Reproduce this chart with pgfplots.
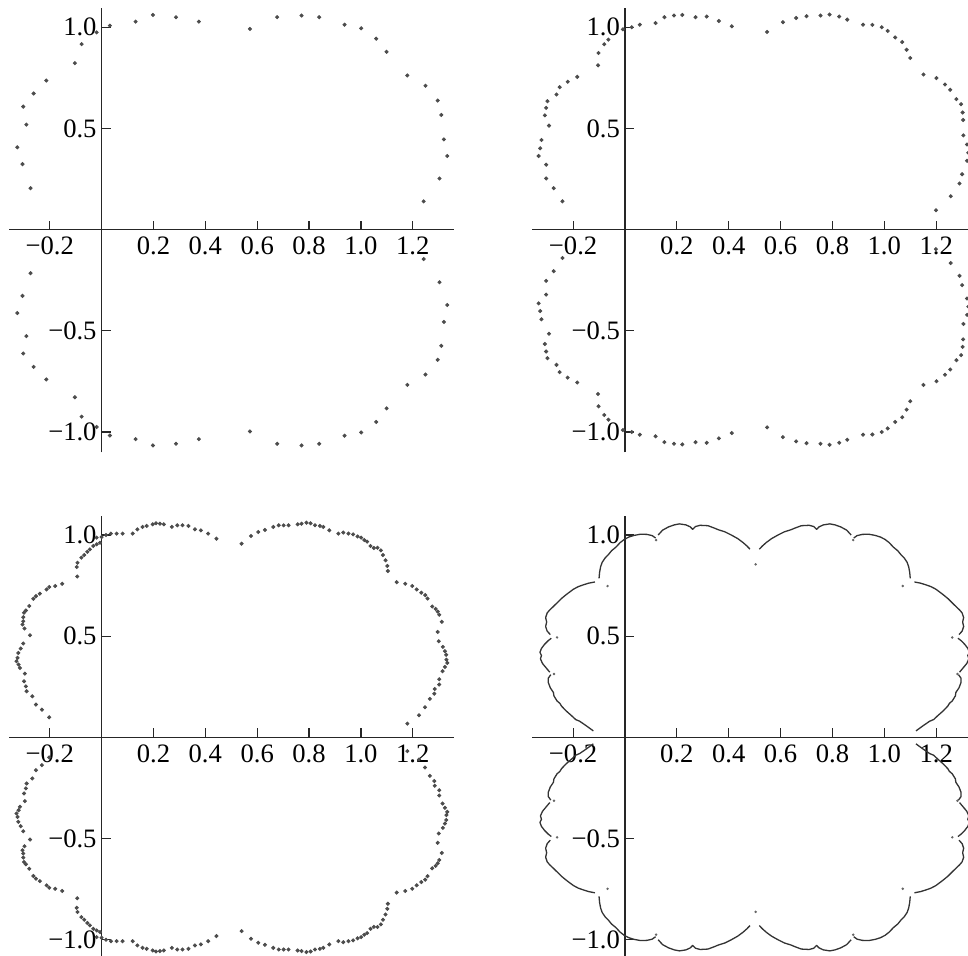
\documentclass[border=0pt]{standalone}
\usepackage{fontspec}
\setmainfont{Liberation Serif}
\usepackage{pgfplots}
\pgfplotsset{compat=1.18}
\begin{document}
\begin{tikzpicture}
\useasboundingbox (0pt,0pt) rectangle (484pt,478pt);
\pgfplotsset{
 panel/.style={
  scale only axis, width=222.5pt, height=221.9pt,
  xmin=-0.357, xmax=1.359, ymin=-1.10, ymax=1.093,
  axis lines=middle, axis line style={-, line width=0.7pt, black!85},
  xtick={-0.2,0.2,0.4,0.6,0.8,1.0,1.2},
  xticklabels={−0.2,0.2,0.4,0.6,0.8,1.0,1.2},
  ytick={-1,-0.5,0.5,1},
  yticklabels={−1.0,−0.5,0.5,1.0},
  tick align=inside, major tick length=4.5pt,
  tick style={black!85,line width=0.6pt},
  tick label style={font=\fontsize{13.3}{15}\selectfont, text=black},
  yticklabel style={xshift=1pt},
  anchor=south west, clip=false,
 },
 dots/.style={only marks, mark=*, mark size=0.8pt, color=black!70, mark options={draw=black!70, fill=black!70}},
 curve/.style={black!80, line width=0.65pt, unbounded coords=jump, line join=round},
}
% ---------------- panel 1 ----------------
\begin{axis}[panel, at={(4.5pt,251.85pt)}]
\addplot[dots] table {
x y
0.032 1.008
0.131 1.028
0.198 1.061
0.287 1.050
0.375 1.028
0.572 0.992
0.677 1.050
0.771 1.058
0.839 1.050
0.937 1.013
1.001 0.995
1.059 0.944
1.099 0.879
1.179 0.762
1.249 0.711
1.296 0.638
1.310 0.567
1.320 0.446
1.333 0.364
1.303 0.253
1.242 0.140
-0.019 0.975
-0.077 0.917
-0.103 0.823
-0.213 0.737
-0.262 0.673
-0.302 0.608
-0.290 0.519
-0.325 0.407
-0.305 0.324
-0.274 0.205
1.242 -0.145
1.303 -0.260
1.333 -0.372
1.320 -0.456
1.310 -0.574
1.296 -0.643
1.249 -0.716
1.179 -0.767
1.099 -0.883
1.059 -0.950
1.001 -1.002
0.937 -1.018
0.839 -1.058
0.771 -1.066
0.677 -1.058
0.572 -0.997
0.375 -1.035
0.287 -1.058
0.198 -1.066
0.131 -1.035
0.032 -1.017
-0.019 -0.975
-0.077 -0.924
-0.103 -0.828
-0.213 -0.740
-0.262 -0.678
-0.302 -0.612
-0.290 -0.526
-0.325 -0.412
-0.305 -0.327
-0.274 -0.215
};
\end{axis}
% ---------------- panel 2 ----------------
\begin{axis}[panel, at={(266.2pt,251.85pt)}]
\addplot[dots] table {
x y
-0.008 0.990
0.026 1.000
0.057 1.013
0.118 1.021
0.152 1.050
0.189 1.058
0.221 1.061
0.272 1.050
0.315 1.053
0.362 1.031
0.412 1.005
0.548 0.977
0.609 1.025
0.660 1.046
0.700 1.055
0.754 1.058
0.789 1.063
0.826 1.053
0.857 1.038
0.918 1.013
0.954 1.012
0.990 1.000
1.013 0.982
1.042 0.950
1.069 0.927
1.086 0.889
1.100 0.848
1.151 0.767
1.201 0.749
1.234 0.717
1.254 0.691
1.278 0.645
1.296 0.620
1.302 0.579
1.304 0.542
1.305 0.466
1.319 0.421
1.324 0.380
1.319 0.340
1.300 0.274
1.290 0.228
1.256 0.165
1.199 0.096
-0.064 0.939
-0.080 0.916
-0.102 0.873
-0.104 0.812
-0.184 0.755
-0.221 0.731
-0.252 0.704
-0.264 0.668
-0.299 0.635
-0.304 0.602
-0.309 0.565
-0.293 0.514
-0.322 0.443
-0.327 0.402
-0.333 0.364
-0.304 0.321
-0.304 0.253
-0.275 0.205
-0.241 0.140
-0.008 -0.990
0.026 -1.000
0.057 -1.013
0.118 -1.021
0.152 -1.050
0.189 -1.058
0.221 -1.061
0.272 -1.050
0.315 -1.053
0.362 -1.031
0.412 -1.005
0.548 -0.977
0.609 -1.025
0.660 -1.046
0.700 -1.055
0.754 -1.058
0.789 -1.063
0.826 -1.053
0.857 -1.038
0.918 -1.013
0.954 -1.012
0.990 -1.000
1.013 -0.982
1.042 -0.950
1.069 -0.927
1.086 -0.889
1.100 -0.848
1.151 -0.767
1.201 -0.749
1.234 -0.717
1.254 -0.691
1.278 -0.645
1.296 -0.620
1.302 -0.579
1.304 -0.542
1.305 -0.466
1.319 -0.421
1.324 -0.380
1.319 -0.340
1.300 -0.274
1.290 -0.228
1.256 -0.165
1.199 -0.096
-0.064 -0.939
-0.080 -0.916
-0.102 -0.873
-0.104 -0.812
-0.184 -0.755
-0.221 -0.731
-0.252 -0.704
-0.264 -0.668
-0.299 -0.635
-0.304 -0.602
-0.309 -0.565
-0.293 -0.514
-0.322 -0.443
-0.327 -0.402
-0.333 -0.364
-0.304 -0.321
-0.304 -0.253
-0.275 -0.205
-0.241 -0.140
};
\end{axis}
% ---------------- panel 3 ----------------
\begin{axis}[panel, at={(4.5pt,-2pt)}]
\addplot[dots] table {
x y
-0.019 0.987
0.000 0.990
0.017 1.000
0.036 1.007
0.058 1.007
0.081 1.007
0.120 1.007
0.138 1.028
0.158 1.040
0.174 1.045
0.197 1.053
0.210 1.058
0.225 1.056
0.240 1.053
0.271 1.040
0.292 1.048
0.312 1.048
0.335 1.045
0.360 1.028
0.383 1.023
0.411 1.007
0.443 0.982
0.540 0.957
0.576 0.995
0.604 1.015
0.630 1.025
0.662 1.040
0.683 1.048
0.702 1.048
0.721 1.048
0.756 1.053
0.771 1.056
0.790 1.061
0.806 1.058
0.823 1.048
0.842 1.045
0.855 1.040
0.878 1.023
0.913 1.007
0.932 1.012
0.952 1.007
0.970 1.003
0.987 0.993
1.001 0.987
1.013 0.975
1.024 0.967
1.037 0.946
1.050 0.936
1.064 0.937
1.077 0.924
1.085 0.901
1.095 0.875
1.102 0.847
1.104 0.822
1.138 0.767
1.171 0.759
1.198 0.748
1.215 0.731
1.233 0.715
1.248 0.703
1.257 0.686
1.275 0.647
1.288 0.635
1.296 0.622
1.302 0.606
1.312 0.571
1.296 0.521
1.300 0.475
1.316 0.447
1.324 0.426
1.329 0.408
1.330 0.384
1.333 0.368
1.324 0.348
1.315 0.327
1.302 0.287
1.302 0.261
1.285 0.239
1.283 0.216
1.266 0.190
1.247 0.149
1.224 0.109
1.179 0.068
-0.006 0.962
-0.019 0.954
-0.032 0.946
-0.045 0.929
-0.055 0.917
-0.067 0.901
-0.078 0.888
-0.093 0.863
-0.096 0.842
-0.094 0.795
-0.152 0.759
-0.179 0.748
-0.202 0.743
-0.212 0.731
-0.238 0.710
-0.253 0.698
-0.263 0.685
-0.279 0.649
-0.292 0.627
-0.299 0.616
-0.302 0.594
-0.302 0.574
-0.305 0.558
-0.297 0.538
-0.276 0.505
-0.302 0.464
-0.312 0.439
-0.321 0.417
-0.324 0.393
-0.328 0.376
-0.320 0.360
-0.315 0.343
-0.296 0.315
-0.299 0.277
-0.292 0.252
-0.289 0.228
-0.267 0.203
-0.253 0.162
-0.230 0.137
-0.202 0.099
-0.019 -0.987
0.000 -0.990
0.017 -1.000
0.036 -1.007
0.058 -1.007
0.081 -1.007
0.120 -1.007
0.138 -1.028
0.158 -1.040
0.174 -1.045
0.197 -1.053
0.210 -1.058
0.225 -1.056
0.240 -1.053
0.271 -1.040
0.292 -1.048
0.312 -1.048
0.335 -1.045
0.360 -1.028
0.383 -1.023
0.411 -1.007
0.443 -0.982
0.540 -0.957
0.576 -0.995
0.604 -1.015
0.630 -1.025
0.662 -1.040
0.683 -1.048
0.702 -1.048
0.721 -1.048
0.756 -1.053
0.771 -1.056
0.790 -1.061
0.806 -1.058
0.823 -1.048
0.842 -1.045
0.855 -1.040
0.878 -1.023
0.913 -1.007
0.932 -1.012
0.952 -1.007
0.970 -1.003
0.987 -0.993
1.001 -0.987
1.013 -0.975
1.024 -0.967
1.037 -0.946
1.050 -0.936
1.064 -0.937
1.077 -0.924
1.085 -0.901
1.095 -0.875
1.102 -0.847
1.104 -0.822
1.138 -0.767
1.171 -0.759
1.198 -0.748
1.215 -0.731
1.233 -0.715
1.248 -0.703
1.257 -0.686
1.275 -0.647
1.288 -0.635
1.296 -0.622
1.302 -0.606
1.312 -0.571
1.296 -0.521
1.300 -0.475
1.316 -0.447
1.324 -0.426
1.329 -0.408
1.330 -0.384
1.333 -0.368
1.324 -0.348
1.315 -0.327
1.302 -0.287
1.302 -0.261
1.285 -0.239
1.283 -0.216
1.266 -0.190
1.247 -0.149
1.224 -0.109
1.179 -0.068
-0.006 -0.962
-0.019 -0.954
-0.032 -0.946
-0.045 -0.929
-0.055 -0.917
-0.067 -0.901
-0.078 -0.888
-0.093 -0.863
-0.096 -0.842
-0.094 -0.795
-0.152 -0.759
-0.179 -0.748
-0.202 -0.743
-0.212 -0.731
-0.238 -0.710
-0.253 -0.698
-0.263 -0.685
-0.279 -0.649
-0.292 -0.627
-0.299 -0.616
-0.302 -0.594
-0.302 -0.574
-0.305 -0.558
-0.297 -0.538
-0.276 -0.505
-0.302 -0.464
-0.312 -0.439
-0.321 -0.417
-0.324 -0.393
-0.328 -0.376
-0.320 -0.360
-0.315 -0.343
-0.296 -0.315
-0.299 -0.277
-0.292 -0.252
-0.289 -0.228
-0.267 -0.203
-0.253 -0.162
-0.230 -0.137
-0.202 -0.099
};
\end{axis}
% ---------------- panel 4 ----------------
\begin{axis}[panel, at={(266.2pt,-2pt)}]
\addplot[curve] table {
x y
-0.122 0.032
-0.150 0.058
-0.175 0.080
-0.190 0.088
-0.205 0.106
-0.228 0.132
-0.245 0.155
-0.251 0.168
-0.262 0.180
-0.274 0.205
-0.276 0.222
-0.288 0.245
-0.296 0.272
-0.296 0.292
-0.286 0.310
nan nan
-0.290 0.322
-0.305 0.345
-0.318 0.365
-0.326 0.388
-0.322 0.405
-0.328 0.420
-0.322 0.440
-0.310 0.460
-0.296 0.478
-0.284 0.490
nan nan
-0.288 0.508
-0.300 0.525
-0.306 0.548
-0.302 0.570
-0.306 0.592
-0.300 0.615
-0.290 0.630
-0.280 0.642
-0.264 0.662
-0.246 0.685
-0.232 0.700
-0.220 0.712
-0.199 0.732
-0.180 0.745
-0.160 0.754
-0.140 0.762
-0.116 0.768
nan nan
-0.100 0.786
-0.098 0.815
-0.094 0.843
-0.088 0.865
-0.077 0.886
-0.064 0.903
-0.052 0.922
-0.035 0.940
-0.019 0.962
-0.003 0.978
0.015 0.990
0.035 0.998
0.060 1.004
0.085 1.003
0.105 0.997
0.118 0.985
nan nan
0.128 1.000
0.145 1.024
0.168 1.040
0.190 1.050
0.210 1.055
0.235 1.050
0.252 1.040
0.261 1.028
0.272 1.042
0.290 1.048
0.320 1.046
0.345 1.034
0.360 1.026
0.385 1.016
0.410 1.000
0.435 0.982
0.455 0.963
0.470 0.946
0.482 0.930
nan nan
0.518 0.930
0.530 0.946
0.545 0.963
0.565 0.982
0.590 1.000
0.615 1.016
0.640 1.026
0.655 1.034
0.680 1.046
0.710 1.048
0.728 1.042
0.739 1.028
0.748 1.040
0.765 1.050
0.790 1.055
0.810 1.050
0.832 1.040
0.855 1.024
0.872 1.000
nan nan
0.882 0.985
0.895 0.997
0.915 1.003
0.940 1.004
0.965 0.998
0.985 0.990
1.003 0.978
1.019 0.962
1.035 0.940
1.052 0.922
1.064 0.903
1.077 0.886
1.088 0.865
1.094 0.843
1.098 0.815
1.100 0.786
nan nan
1.116 0.768
1.140 0.762
1.160 0.754
1.180 0.745
1.199 0.732
1.220 0.712
1.232 0.700
1.246 0.685
1.264 0.662
1.280 0.642
1.290 0.630
1.300 0.615
1.306 0.592
1.302 0.570
1.306 0.548
1.300 0.525
1.288 0.508
nan nan
1.284 0.490
1.296 0.478
1.310 0.460
1.322 0.440
1.328 0.420
1.322 0.405
1.326 0.388
1.318 0.365
1.305 0.345
1.290 0.322
nan nan
1.286 0.310
1.296 0.292
1.296 0.272
1.288 0.245
1.276 0.222
1.274 0.205
1.262 0.180
1.251 0.168
1.245 0.155
1.228 0.132
1.205 0.106
1.190 0.088
1.175 0.080
1.150 0.058
1.122 0.032
nan nan
-0.122 -0.032
-0.150 -0.058
-0.175 -0.080
-0.190 -0.088
-0.205 -0.106
-0.228 -0.132
-0.245 -0.155
-0.251 -0.168
-0.262 -0.180
-0.274 -0.205
-0.276 -0.222
-0.288 -0.245
-0.296 -0.272
-0.296 -0.292
-0.286 -0.310
nan nan
-0.290 -0.322
-0.305 -0.345
-0.318 -0.365
-0.326 -0.388
-0.322 -0.405
-0.328 -0.420
-0.322 -0.440
-0.310 -0.460
-0.296 -0.478
-0.284 -0.490
nan nan
-0.288 -0.508
-0.300 -0.525
-0.306 -0.548
-0.302 -0.570
-0.306 -0.592
-0.300 -0.615
-0.290 -0.630
-0.280 -0.642
-0.264 -0.662
-0.246 -0.685
-0.232 -0.700
-0.220 -0.712
-0.199 -0.732
-0.180 -0.745
-0.160 -0.754
-0.140 -0.762
-0.116 -0.768
nan nan
-0.100 -0.786
-0.098 -0.815
-0.094 -0.843
-0.088 -0.865
-0.077 -0.886
-0.064 -0.903
-0.052 -0.922
-0.035 -0.940
-0.019 -0.962
-0.003 -0.978
0.015 -0.990
0.035 -0.998
0.060 -1.004
0.085 -1.003
0.105 -0.997
0.118 -0.985
nan nan
0.128 -1.000
0.145 -1.024
0.168 -1.040
0.190 -1.050
0.210 -1.055
0.235 -1.050
0.252 -1.040
0.261 -1.028
0.272 -1.042
0.290 -1.048
0.320 -1.046
0.345 -1.034
0.360 -1.026
0.385 -1.016
0.410 -1.000
0.435 -0.982
0.455 -0.963
0.470 -0.946
0.482 -0.930
nan nan
0.518 -0.930
0.530 -0.946
0.545 -0.963
0.565 -0.982
0.590 -1.000
0.615 -1.016
0.640 -1.026
0.655 -1.034
0.680 -1.046
0.710 -1.048
0.728 -1.042
0.739 -1.028
0.748 -1.040
0.765 -1.050
0.790 -1.055
0.810 -1.050
0.832 -1.040
0.855 -1.024
0.872 -1.000
nan nan
0.882 -0.985
0.895 -0.997
0.915 -1.003
0.940 -1.004
0.965 -0.998
0.985 -0.990
1.003 -0.978
1.019 -0.962
1.035 -0.940
1.052 -0.922
1.064 -0.903
1.077 -0.886
1.088 -0.865
1.094 -0.843
1.098 -0.815
1.100 -0.786
nan nan
1.116 -0.768
1.140 -0.762
1.160 -0.754
1.180 -0.745
1.199 -0.732
1.220 -0.712
1.232 -0.700
1.246 -0.685
1.264 -0.662
1.280 -0.642
1.290 -0.630
1.300 -0.615
1.306 -0.592
1.302 -0.570
1.306 -0.548
1.300 -0.525
1.288 -0.508
nan nan
1.284 -0.490
1.296 -0.478
1.310 -0.460
1.322 -0.440
1.328 -0.420
1.322 -0.405
1.326 -0.388
1.318 -0.365
1.305 -0.345
1.290 -0.322
nan nan
1.286 -0.310
1.296 -0.292
1.296 -0.272
1.288 -0.245
1.276 -0.222
1.274 -0.205
1.262 -0.180
1.251 -0.168
1.245 -0.155
1.228 -0.132
1.205 -0.106
1.190 -0.088
1.175 -0.080
1.150 -0.058
1.122 -0.032
};
\addplot[only marks, mark=*, mark size=0.4pt, color=black!60] table {
x y
0.504 0.855
0.504 -0.862
-0.067 0.748
-0.067 -0.748
1.071 0.748
1.071 -0.748
-0.262 0.494
-0.262 -0.494
1.262 0.494
1.262 -0.494
-0.274 0.313
-0.274 -0.313
1.282 0.313
1.282 -0.313
0.120 0.975
0.120 -0.975
0.880 0.975
0.880 -0.975
};
\end{axis}
\end{tikzpicture}
\end{document}
